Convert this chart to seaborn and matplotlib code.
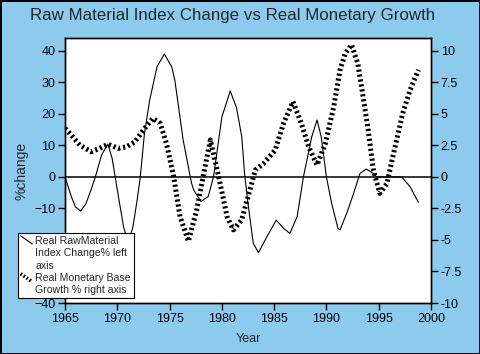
import matplotlib
matplotlib.use("Agg")
import matplotlib.pyplot as plt
import seaborn as sns
import pandas as pd
from matplotlib.lines import Line2D
from matplotlib.legend_handler import HandlerBase

# ── Data ──────────────────────────────────────────────────────
raw_years = [1965.0, 1965.6, 1966.0, 1966.5, 1967.0, 1967.5, 1967.9, 1968.5, 1969.1,
             1969.5, 1969.8, 1970.2, 1970.6, 1971.05, 1971.5, 1971.9, 1972.2, 1972.6,
             1973.1, 1973.8, 1974.5, 1975.2, 1975.5, 1976.3, 1977.1, 1977.3, 1978.0,
             1978.7, 1979.2, 1980.0, 1980.8, 1981.4, 1981.9, 1982.2, 1982.5, 1983.0,
             1983.5, 1984.3, 1985.2, 1985.9, 1986.5, 1987.2, 1987.8, 1988.6, 1989.1,
             1989.5, 1990.0, 1990.5, 1991.1, 1991.3, 1992.0, 1992.6, 1993.2, 1993.8,
             1994.5, 1994.8, 1995.5, 1996.3, 1997.2, 1998.0, 1998.8]
raw_change = [0, -6.2, -9.5, -10.8, -8.5, -4, 0, 7, 10.4,
              6, 0, -8, -15.8, -21, -15.8, -7.3, 0, 13.9,
              24.4, 35, 39, 35, 30.8, 11.7, -2, -4.1, -7.8,
              -6.2, 0, 19, 27.3, 22, 12.8, 0, -8.4, -21,
              -24, -19, -13.7, -16.3, -17.9, -12.6, 0, 12.8, 18.1,
              12.8, 0, -8.4, -16.3, -16.8, -11, -5.2, 1.06, 2.5,
              1.1, 0, 0, 0, 0, -3.1, -8.1]

mon_years = [1965.0, 1965.6, 1966.4, 1967.5, 1968.3, 1969.1, 1970.1, 1970.9, 1971.7,
             1972.5, 1973.4, 1974.1, 1974.7, 1975.4, 1976.0, 1976.8, 1977.6, 1978.2,
             1978.9, 1979.7, 1980.5, 1981.1, 1981.9, 1982.5, 1983.2, 1984.0, 1985.1,
             1985.9, 1986.8, 1987.6, 1988.3, 1989.1, 1989.9, 1990.7, 1991.3, 1991.8,
             1992.4, 1993.0, 1993.5, 1994.0, 1994.5, 1995.1, 1995.8, 1996.2, 1996.7,
             1997.3, 1998.0, 1998.8]
mon_growth = [3.87, 3.33, 2.54, 2.0, 2.27, 2.6, 2.27, 2.4, 2.8,
              3.73, 4.66, 4.26, 2.67, 0, -3.15, -5.1, -2.6, 0,
              2.94, 0, -3.15, -4.2, -3.4, -1.56, 0.55, 1.08, 2.14,
              4.26, 5.98, 4.26, 2.4, 0.95, 2.67, 5.58, 8.5, 9.8,
              10.5, 9.0, 6.4, 3.7, 0.53, -1.3, -0.5, 1.06, 2.9,
              5.06, 6.9, 8.5]

x_ticks = [1965, 1970, 1975, 1980, 1985, 1990, 1995, 2000]
left_ticks = [-40, -30, -20, -10, 0, 10, 20, 30, 40]
right_ticks = [-10, -7.5, -5, -2.5, 0, 2.5, 5, 7.5, 10]
right_labels = ["-10", "-7.5", "-5", "-2.5", "0", "2.5", "5", "7.5", "10"]

TITLE = "Raw Material Index Change vs Real Monetary Growth"
LABEL_RAW = "Real RawMaterial\nIndex Change% left\naxis"
LABEL_MON = "Real Monetary Base\nGrowth % right axis"
BG = "#8DCBEE"
DOTS = (0, (0.45, 0.55))


class DiagonalHandler(HandlerBase):
    """Short diagonal stroke placed next to the first text line."""

    def __init__(self, lines_up, lw, ls, **kw):
        super().__init__(**kw)
        self.lines_up = lines_up
        self.lw = lw
        self.ls = ls

    def create_artists(self, legend, orig_handle, xdescent, ydescent,
                       width, height, fontsize, trans):
        dy = self.lines_up * fontsize * 1.35
        x0, x1 = -xdescent, -xdescent + width
        y0, y1 = -ydescent + dy - 0.1 * height, -ydescent + height + dy
        ln = Line2D([x0, x1], [y1, y0], color="black", linewidth=self.lw,
                    linestyle=self.ls, transform=trans)
        ln.set_dash_capstyle("butt")
        return [ln]


raw_df = pd.DataFrame({"year": raw_years, "value": raw_change})
mon_df = pd.DataFrame({"year": mon_years, "value": mon_growth})

# ── Plot ───────────────────────────────────────────────────────
sns.set_style("ticks")
plt.rcParams["font.family"] = ["Liberation Sans", "DejaVu Sans"]

fig = plt.figure(figsize=(4.8, 3.54), dpi=100, facecolor=BG)
fig.patch.set_edgecolor("black")
fig.patch.set_linewidth(2)
ax = fig.add_axes([65 / 480, 1 - 303 / 354, 366 / 480, 265 / 354])
ax.set_facecolor("white")

sns.lineplot(data=raw_df, x="year", y="value", ax=ax, color="black",
             linewidth=0.8, estimator=None, sort=False)
ax.axhline(0, color="black", linewidth=1.1)

ax2 = ax.twinx()
sns.lineplot(data=mon_df, x="year", y="value", ax=ax2, color="black",
             linewidth=3.6, linestyle=DOTS, estimator=None, sort=False)
for ln in ax2.get_lines():
    ln.set_dash_capstyle("butt")

ax.set_xlim(1965, 2000)
ax.set_ylim(-40, 44.1)
ax2.set_ylim(-10, 11.03)
ax.set_xticks(x_ticks)
ax.set_yticks(left_ticks)
ax2.set_yticks(right_ticks)
ax2.set_yticklabels(right_labels)

for a in (ax, ax2):
    a.tick_params(direction="out", length=5, width=1, colors="black", labelsize=9, pad=2)
    for sp in a.spines.values():
        sp.set_visible(True)
        sp.set_color("black")
        sp.set_linewidth(1)

ax.set_xlabel("Year", fontsize=9, labelpad=6)
ax.set_ylabel("%change", fontsize=10, labelpad=4)
ax2.set_ylabel("")

fig.text(0.485, 0.955, TITLE, ha="center", va="center", fontsize=12.2)

h_raw = Line2D([0], [0], color="black", linewidth=0.8)
h_mon = Line2D([0], [0], color="black", linewidth=2.6, linestyle=DOTS)
leg = fig.legend([h_raw, h_mon], [LABEL_RAW, LABEL_MON], loc="lower left",
                 bbox_to_anchor=(18 / 480, 1 - 298 / 354), fontsize=7.6,
                 frameon=True, fancybox=False, framealpha=1, edgecolor="black",
                 handlelength=1.1, handletextpad=0.3, borderpad=0.25,
                 labelspacing=0.2, borderaxespad=0,
                 handler_map={h_raw: DiagonalHandler(1, 0.8, "-"),
                              h_mon: DiagonalHandler(0.5, 2.6, DOTS)})
leg.get_frame().set_linewidth(0.8)
for t in leg.get_texts():
    t.set_linespacing(1.3)

fig.savefig("out.png", dpi=100, facecolor=BG, edgecolor="black")
